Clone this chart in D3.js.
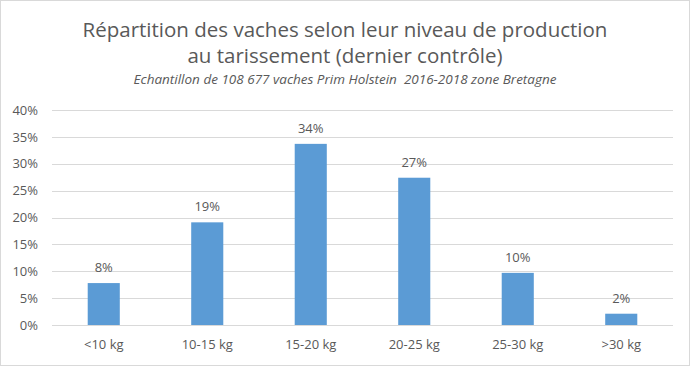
<!DOCTYPE html>
<html>
<head>
<meta charset="utf-8">
<script src="https://cdn.jsdelivr.net/npm/d3@7"></script>
<style>
  body { margin: 0; background: #fff; }
  text { font-family: "Open Sans", "Noto Sans", sans-serif; fill: #595959; }
</style>
</head>
<body>
<svg id="chart" width="690" height="366"></svg>
<script>
// categories and values
var categories = ["<10 kg", "10-15 kg", "15-20 kg", "20-25 kg", "25-30 kg", ">30 kg"];
var shares = [7.8, 19.1, 33.7, 27.4, 9.7, 2.1];
var shareLabels = ["8%", "19%", "34%", "27%", "10%", "2%"];
var yTicks = [0, 5, 10, 15, 20, 25, 30, 35, 40];

var titleLines = ["Répartition des vaches selon leur niveau de production",
                  "au tarissement (dernier contrôle)"];
var subtitle = "Echantillon de 108 677 vaches Prim Holstein  2016-2018 zone Bretagne";

var svg = d3.select("#chart"),
    width = +svg.attr("width"),
    height = +svg.attr("height");

var margin = {top: 110, right: 17, bottom: 41, left: 52};

// outer frame
svg.append("rect")
    .attr("x", 0.5).attr("y", 0.5)
    .attr("width", width - 1).attr("height", height - 1)
    .attr("fill", "#fff")
    .attr("stroke", "#d9d9d9");

var x = d3.scaleBand()
    .domain(categories)
    .range([margin.left, width - margin.right])
    .paddingInner(0.69)
    .paddingOuter(0.345);

var y = d3.scaleLinear()
    .domain([0, 40])
    .range([height - margin.bottom, margin.top]);

// gridlines
svg.append("g").attr("class", "grid")
  .selectAll("line")
  .data(yTicks)
  .enter().append("line")
    .attr("x1", margin.left)
    .attr("x2", width - margin.right)
    .attr("y1", function(d) { return Math.round(y(d)) + 0.5; })
    .attr("y2", function(d) { return Math.round(y(d)) + 0.5; })
    .attr("stroke", "#d9d9d9")
    .attr("stroke-width", 1);

// y axis labels
var yAxis = d3.axisLeft(y)
    .tickValues(yTicks)
    .tickSize(0)
    .tickPadding(14)
    .tickFormat(function(d) { return d + "%"; });

var gy = svg.append("g")
    .attr("transform", "translate(" + margin.left + ",0)")
    .call(yAxis);
gy.select(".domain").remove();
gy.selectAll("text")
    .style("font-size", "13px")
    .attr("fill", "#595959");

// x axis labels
var xAxis = d3.axisBottom(x).tickSize(0).tickPadding(15);
var gx = svg.append("g")
    .attr("transform", "translate(0," + (height - margin.bottom) + ")")
    .call(xAxis);
gx.select(".domain").remove();
gx.selectAll("text")
    .style("font-size", "13px")
    .attr("fill", "#595959");

// bars
svg.append("g").attr("class", "bars")
  .selectAll("rect")
  .data(shares)
  .enter().append("rect")
    .attr("x", function(d, i) { return x(categories[i]); })
    .attr("y", function(d) { return y(d); })
    .attr("width", x.bandwidth())
    .attr("height", function(d) { return y(0) - y(d); })
    .attr("fill", "#5b9bd5");

// value labels
svg.append("g").attr("class", "labels")
  .selectAll("text")
  .data(shares)
  .enter().append("text")
    .attr("x", function(d, i) { return x(categories[i]) + x.bandwidth() / 2; })
    .attr("y", function(d) { return y(d) - 11; })
    .attr("text-anchor", "middle")
    .style("font-size", "13px")
    .text(function(d, i) { return shareLabels[i]; });

// title
svg.append("g").attr("class", "title")
  .selectAll("text")
  .data(titleLines)
  .enter().append("text")
    .attr("x", width / 2)
    .attr("y", function(d, i) { return 37 + i * 26; })
    .attr("text-anchor", "middle")
    .style("font-size", "20.5px")
    .text(function(d) { return d; });

svg.append("text")
    .attr("x", width / 2)
    .attr("y", 84)
    .attr("text-anchor", "middle")
    .style("font-size", "13.5px")
    .style("font-style", "italic")
    .style("white-space", "pre")
    .text(subtitle);
</script>
</body>
</html>
